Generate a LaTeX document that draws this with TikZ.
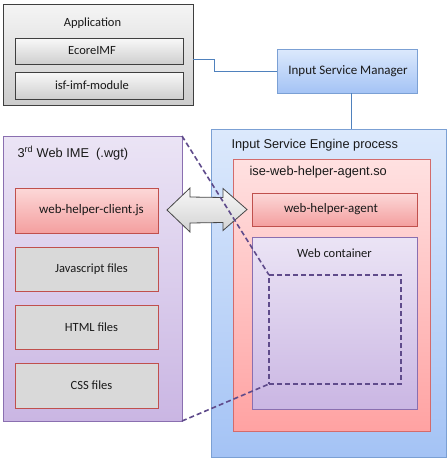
\documentclass[tikz,border=0pt]{standalone}
\usepackage{fontspec}
\setmainfont{Carlito}
\newfontfamily\arialf{Liberation Sans}
\usetikzlibrary{shadows,calc,fit}
\definecolor{grayline}{HTML}{3F3F3F}
\definecolor{bluel}{HTML}{7BA0D4}
\definecolor{bluet}{HTML}{DCE9FC}
\definecolor{blueb}{HTML}{A4C3F5}
\definecolor{pinkl}{HTML}{D36B6B}
\definecolor{pinkt}{HTML}{FFE1E1}
\definecolor{pinkb}{HTML}{FFA2A2}
\definecolor{redl}{HTML}{C0504D}
\definecolor{redt}{HTML}{FCD8D8}
\definecolor{redb}{HTML}{F49F9F}
\definecolor{lavl}{HTML}{8A6FB0}
\definecolor{lavt}{HTML}{EBE4F5}
\definecolor{lavb}{HTML}{CAB6E3}
\definecolor{filegray}{HTML}{D9D9D9}
\definecolor{linkblue}{HTML}{4F81BD}
\definecolor{dashpurple}{HTML}{5F4B8B}
\tikzset{
  base/.style={inner sep=0pt, outer sep=0pt, line width=0.8pt,
    drop shadow={opacity=0.3, shadow xshift=1.2pt, shadow yshift=-1.2pt}},
  grayouter/.style={base, draw=grayline, top color=gray!8, bottom color=gray!40},
  grayinner/.style={base, draw=grayline, line width=1pt, top color=gray!5, bottom color=gray!38},
  bluebox/.style={base, draw=bluel, top color=bluet, bottom color=blueb},
  pinkouter/.style={base, draw=pinkl, top color=pinkt, bottom color=pinkb},
  redbox/.style={base, draw=redl, top color=redt, bottom color=redb},
  lavbox/.style={base, draw=lavl, top color=lavt, bottom color=lavb},
  filebox/.style={base, draw=redl, fill=filegray},
  boxtext/.style={font=\fontsize{12.5}{14}\selectfont, text=black!90},
  bigtext/.style={font=\fontsize{13}{15}\selectfont, text=black!90},
  titletext/.style={font=\arialf\fontsize{12.8}{15}\selectfont, text=black!90, anchor=west},
  link/.style={draw=linkblue, line width=0.9pt},
  dashlink/.style={draw=dashpurple, line width=1.6pt, dash pattern=on 5pt off 3pt},
  arrowbox/.style={draw=gray!55!black, line width=0.8pt, top color=gray!5, bottom color=gray!35}
}
\begin{document}
\begin{tikzpicture}[x=1pt,y=-1pt]
\useasboundingbox (0,0) rectangle (447,467);
% connectors (behind boxes)
\coordinate (ismtap) at (351,93);
% Application
\node[grayouter, fit={(3,4) (193,105)}] (app) {};
\node[boxtext] (apptext) at (92.5,23) {Application};
\node[grayinner, fit={(15,38) (183,64)}] (ecore) {};
\node[boxtext] at (92,51) {EcoreIMF};
\node[grayinner, fit={(15,72) (183,99)}] (isf) {};
\node[boxtext] at (92,85.5) {isf-imf-module};
% Input Service Manager
\node[bluebox, fit={(277,49) (417,93)}] (ism) {};
\node[bigtext] at (348,71) {Input Service Manager};
% ISE process
\node[bluebox, fit={(211,129) (446,457)}] (ise) {};
\node[titletext] at (228,145) {Input Service Engine process};
\node[pinkouter, fit={(233,159) (430,431)}] (so) {};
\node[titletext] at (246,172) {ise-web-helper-agent.so};
\node[redbox, fit={(252,193) (417,226)}] (agent) {};
\node[bigtext] at (331,209.5) {web-helper-agent};
\node[lavbox, fit={(252,237) (417,409)}] (wc) {};
\node[boxtext] at (334.5,253) {Web container};
\node[draw=dashpurple, line width=1.6pt, dash pattern=on 5pt off 3pt, inner sep=0pt, outer sep=0pt, fit={(269,275) (401,384)}] (dsq) {};
% 3rd Web IME
\node[lavbox, fit={(3,136) (182,421)}] (ime) {};
\node[titletext] at (14,153) {3\textsuperscript{rd} Web IME\ \ (.wgt)};
\node[redbox, fit={(15,188) (158,233)}] (client) {};
\node[bigtext] at (91.5,210.5) {web-helper-client.js};
\node[filebox, fit={(15,247) (158,291)}] (js) {};
\node[boxtext] at (91.5,269) {Javascript files};
\node[filebox, fit={(15,305) (158,349)}] (html) {};
\node[boxtext] at (91.5,327) {HTML files};
\node[filebox, fit={(15,363) (158,408)}] (css) {};
\node[boxtext] at (91.5,385.5) {CSS files};
% connectors
\draw[link] (app.east |- 0,59) -| ($(ism.west)+(-63,0)$) -- (ism.west);
\draw[link] (ismtap) -- (ismtap |- ise.north);
% double block arrow
\coordinate (lt) at ($(client.east)+(9,-0.5)$);
\coordinate (rt) at ($(agent.west)+(-5,0)$);
\draw[arrowbox] (lt) -- ++(23,-22) -- ++(0,9) -- ($(rt)+(-24,-12)$) -- ++(0,-9) -- (rt)
  -- ++(-24,21) -- ++(0,-8) -- ($(lt)+(23,13)$) -- ++(0,9) -- cycle;
% dashed zoom lines
\draw[dashlink] (ime.north east) -- (dsq.north west);
\draw[dashlink] (ime.south east) -- (dsq.south west);
\end{tikzpicture}
\end{document}
